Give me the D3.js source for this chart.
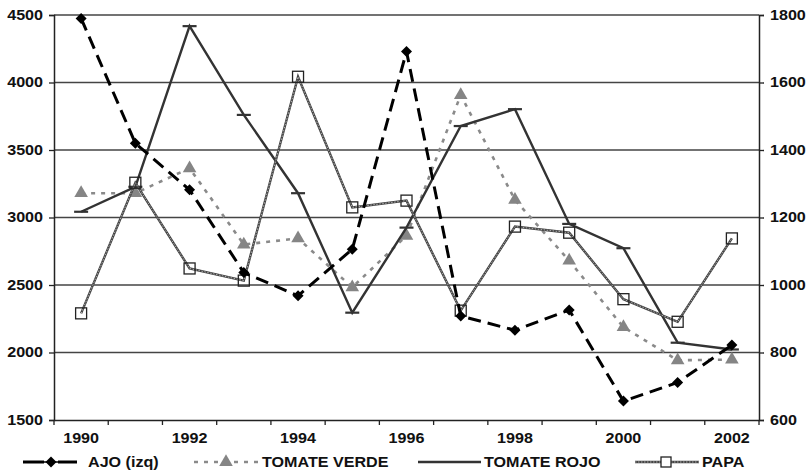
<!DOCTYPE html>
<html><head><meta charset="utf-8">
<script src="https://cdn.jsdelivr.net/npm/d3@7"></script>
<style>body{margin:0;background:#fff}svg{display:block}text{font-family:"Liberation Sans",Arial,sans-serif;font-weight:bold;fill:#111}</style>
</head><body><svg id="c" width="811" height="473"></svg>
<script>
const years = [1990,1991,1992,1993,1994,1995,1996,1997,1998,1999,2000,2001,2002];
const ajo = [4475,3550,3205,2592,2420,2765,4230,2270,2165,2315,1640,1778,2055];
const tomateVerde = [1272,1272,1346,1120,1138,993,1146,1563,1252,1072,875,777,779];
const tomateRojo = [1217,1291,1767,1504,1272,918,1170,1471,1521,1181,1109,829,809];
const papa = [916,1303,1049,1013,1617,1230,1250,924,1173,1155,958,891,1138];
const leftTicks = [1500,2000,2500,3000,3500,4000,4500];
const rightTicks = [600,800,1000,1200,1400,1600,1800];
const xLabels = [1990,1992,1994,1996,1998,2000,2002];
const legendNames = ["AJO (izq)","TOMATE VERDE","TOMATE ROJO","PAPA"];

const svg = d3.select("#c");
const L=54, R=759, T=15, B=420;
const x = d3.scaleBand().domain(years).range([L,R]);
const yL = d3.scaleLinear().domain([1500,4500]).range([B,T]);
const yR = d3.scaleLinear().domain([600,1800]).range([B,T]);
const cx = d => x(d)+x.bandwidth()/2;

function stretch(sel,f){sel.each(function(){const w=this.getComputedTextLength();d3.select(this).attr("textLength",w*f).attr("lengthAdjust","spacingAndGlyphs");});}

// grid
svg.append("g").selectAll("line").data(leftTicks.slice(1)).join("line")
  .attr("x1",L).attr("x2",R).attr("y1",d=>yL(d)).attr("y2",d=>yL(d))
  .attr("stroke","#444").attr("stroke-width",1.4);

// axes
const gl = svg.append("g").attr("transform",`translate(${L},0)`).call(d3.axisLeft(yL).tickValues(leftTicks).tickSize(5).tickPadding(6).tickFormat(d3.format("d")));
const gr = svg.append("g").attr("transform",`translate(${R},0)`).call(d3.axisRight(yR).tickValues(rightTicks).tickSize(5).tickPadding(6).tickFormat(d3.format("d")));
const gb = svg.append("g").attr("transform",`translate(0,${B})`).call(d3.axisBottom(x).tickValues([]).tickSize(0));
const bounds = years.map(y=>x(y)).concat([R]);
gb.selectAll(".bt").data(bounds).join("line").attr("x1",d=>d).attr("x2",d=>d).attr("y1",0).attr("y2",5).attr("stroke","#222").attr("stroke-width",1.3);
gb.selectAll(".lb").data(xLabels).join("text").attr("x",d=>cx(d)).attr("y",23).attr("text-anchor","middle").attr("font-size",14).text(d=>d);
[gl,gr,gb].forEach(g=>{g.select(".domain").attr("stroke","#222").attr("stroke-width",1.5);g.selectAll(".tick line").attr("stroke","#222").attr("stroke-width",1.3);g.selectAll("text").attr("font-size",14).attr("fill","#111").attr("font-family",null);});
gl.selectAll(".tick text").call(stretch,1.15);
gr.selectAll(".tick text").call(stretch,1.15);
gb.selectAll("text").call(stretch,1.15);

const plot = svg.append("g");
function line(data, ys){return d3.line().x((d,i)=>cx(years[i])).y(d=>ys(d))(data);}

const diamond = "M0,-5.5L5.5,0L0,5.5L-5.5,0Z";
const tri = d3.symbol().type(d3.symbolTriangle).size(80);

// TOMATE VERDE
plot.append("path").attr("d",line(tomateVerde,yR)).attr("fill","none").attr("stroke","#8a8a8a").attr("stroke-width",2.6).attr("stroke-dasharray","4,6");
plot.selectAll(".tv").data(tomateVerde).join("path").attr("d",tri).attr("transform",(d,i)=>`translate(${cx(years[i])},${yR(d)})`).attr("fill","#858585");
// TOMATE ROJO
plot.append("path").attr("d",line(tomateRojo,yR)).attr("fill","none").attr("stroke","#333").attr("stroke-width",2.4);
plot.selectAll(".tr").data(tomateRojo).join("line").attr("x1",(d,i)=>cx(years[i])-7).attr("x2",(d,i)=>cx(years[i])+7).attr("y1",d=>yR(d)).attr("y2",d=>yR(d)).attr("stroke","#333").attr("stroke-width",2.2);
// PAPA
plot.append("path").attr("d",line(papa,yR)).attr("fill","none").attr("stroke","#444").attr("stroke-width",2.4);
plot.append("path").attr("d",line(papa,yR)).attr("fill","none").attr("stroke","#bbb").attr("stroke-width",0.9).attr("stroke-dasharray","1.5,1.5");
plot.selectAll(".pp").data(papa).join("rect").attr("x",(d,i)=>cx(years[i])-5.5).attr("y",d=>yR(d)-5.5).attr("width",11).attr("height",11).attr("fill","none").attr("stroke","#222").attr("stroke-width",1.3);
// AJO
plot.append("path").attr("d",line(ajo,yL)).attr("fill","none").attr("stroke","#000").attr("stroke-width",3).attr("stroke-dasharray","13,7");
plot.selectAll(".aj").data(ajo).join("path").attr("d",diamond).attr("transform",(d,i)=>`translate(${cx(years[i])},${yL(d)})`).attr("fill","#000");

// legend
const ly = 462;
const lg = svg.append("g");
lg.append("line").attr("x1",23).attr("x2",44).attr("y1",ly).attr("y2",ly).attr("stroke","#000").attr("stroke-width",3);
lg.append("line").attr("x1",58).attr("x2",77).attr("y1",ly).attr("y2",ly).attr("stroke","#000").attr("stroke-width",3);
lg.append("line").attr("x1",44).attr("x2",58).attr("y1",ly).attr("y2",ly).attr("stroke","#000").attr("stroke-width",1.5);
lg.append("path").attr("d",diamond).attr("transform",`translate(51,${ly})`).attr("fill","#000");
lg.append("line").attr("x1",194).attr("x2",258).attr("y1",ly).attr("y2",ly).attr("stroke","#8a8a8a").attr("stroke-width",2.6).attr("stroke-dasharray","4,6");
lg.append("path").attr("d",tri).attr("transform",`translate(226,${ly})`).attr("fill","#858585");
lg.append("line").attr("x1",418).attr("x2",481).attr("y1",ly).attr("y2",ly).attr("stroke","#333").attr("stroke-width",2.4);
lg.append("line").attr("x1",635).attr("x2",699).attr("y1",ly).attr("y2",ly).attr("stroke","#444").attr("stroke-width",2.4);
lg.append("line").attr("x1",635).attr("x2",699).attr("y1",ly).attr("y2",ly).attr("stroke","#bbb").attr("stroke-width",0.9).attr("stroke-dasharray","1.5,1.5");
lg.append("rect").attr("x",661).attr("y",ly-5).attr("width",10).attr("height",10).attr("fill","#fff").attr("stroke","#222").attr("stroke-width",1.3);
const lx = [88,262,484,702];
lg.selectAll(".lt").data(legendNames).join("text").attr("x",(d,i)=>lx[i]).attr("y",ly+5).attr("font-size",14).text(d=>d).call(stretch,1.15);
</script></body></html>
